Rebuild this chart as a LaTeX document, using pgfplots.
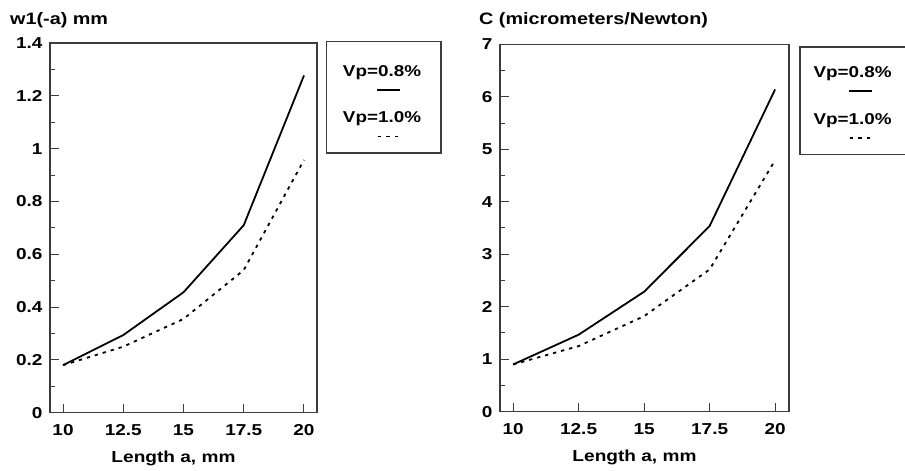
\documentclass[border=0pt]{standalone}
\usepackage{fontspec}
\setmainfont{Liberation Sans}[FakeStretch=1.2]
\usepackage{pgfplots}
\pgfplotsset{compat=1.18}
\definecolor{axisgray}{RGB}{60,60,60}
\pgfplotsset{mystyle/.style={
  scale only axis, anchor=south west,
  axis line style={line width=1.3bp, axisgray},
  xtick pos=bottom, ytick pos=left, tick align=inside,
  major tick length=9bp, minor tick length=4.5bp,
  tick style={line width=1bp, axisgray},
  minor y tick num=1,
  xtick={10,12.5,15,17.5,20},
  /pgf/number format/assume math mode=true,
  ticklabel style={font=\fontsize{15.8bp}{18bp}\selectfont\bfseries},
  yticklabel style={anchor=east, xshift=-4bp},
  xticklabel style={anchor=base, yshift=-23bp},
  xlabel={Length a, mm},
  xlabel style={font=\fontsize{15.9bp}{18bp}\selectfont\bfseries, at={(axis description cs:0.5,0)}, anchor=base, yshift=-50bp, xshift=-10bp},
  ylabel style={font=\fontsize{16.5bp}{19bp}\selectfont\bfseries, rotate=-90, at={(axis description cs:0,1)}, anchor=base west, inner sep=0pt},
  clip=false,
}}
\begin{document}
\begin{tikzpicture}
\useasboundingbox (0,0) rectangle (905bp,471bp);
\begin{axis}[mystyle, at={(50bp,58.3bp)}, width=267bp, height=369.7bp,
  xmin=9.46, xmax=20.54, ymin=0, ymax=1.4,
  ytick={0,0.2,0.4,0.6,0.8,1,1.2,1.4},
  ylabel={w1(-a) mm}, ylabel style={xshift=-40bp, yshift=18bp}]
\addplot[black, line width=1.8bp] coordinates {(10,0.18) (12.5,0.294) (15,0.456) (17.5,0.71) (20,1.277)};
\addplot[black, line width=1.8bp, dash pattern=on 3.3bp off 5bp] coordinates {(10,0.18) (12.5,0.25) (15,0.355) (17.5,0.54) (20,0.957)};
\end{axis}
\begin{axis}[mystyle, at={(500bp,59.3bp)}, width=289bp, height=367.4bp,
  xmin=9.5, xmax=20.53, ymin=0, ymax=7,
  ytick={0,1,2,3,4,5,6,7},
  ylabel={C (micrometers/Newton)}, ylabel style={xshift=-21bp, yshift=19.3bp}]
\addplot[black, line width=1.8bp] coordinates {(10,0.9) (12.5,1.467) (15,2.286) (17.5,3.537) (20,6.14)};
\addplot[black, line width=1.8bp, dash pattern=on 3.3bp off 5bp] coordinates {(10,0.9) (12.5,1.25) (15,1.82) (17.5,2.71) (20,4.79)};
\end{axis}
% legends
\begin{scope}[font=\fontsize{15.7bp}{18bp}\selectfont\bfseries]
\draw[line width=1.3bp, axisgray] (326.7bp,318bp) rectangle (441bp,429.5bp);
\node[anchor=base, inner sep=0] at (382bp,394.5bp) {Vp=0.8\%};
\draw[black, line width=1.8bp] (377bp,381bp) -- (400bp,381bp);
\node[anchor=base, inner sep=0] at (382bp,348.5bp) {Vp=1.0\%};
\draw[black, line width=1.8bp, dash pattern=on 3.3bp off 5bp] (378bp,334.5bp) -- (401bp,334.5bp);
\draw[line width=1.3bp, axisgray] (800bp,316.5bp) rectangle (918bp,424bp);
\node[anchor=base, inner sep=0] at (852.5bp,393.5bp) {Vp=0.8\%};
\draw[black, line width=1.8bp] (849bp,380bp) -- (872bp,380bp);
\node[anchor=base, inner sep=0] at (852.5bp,346.8bp) {Vp=1.0\%};
\draw[black, line width=1.8bp, dash pattern=on 3.3bp off 5bp] (850bp,333.3bp) -- (873bp,333.3bp);
\end{scope}
\end{tikzpicture}
\end{document}
